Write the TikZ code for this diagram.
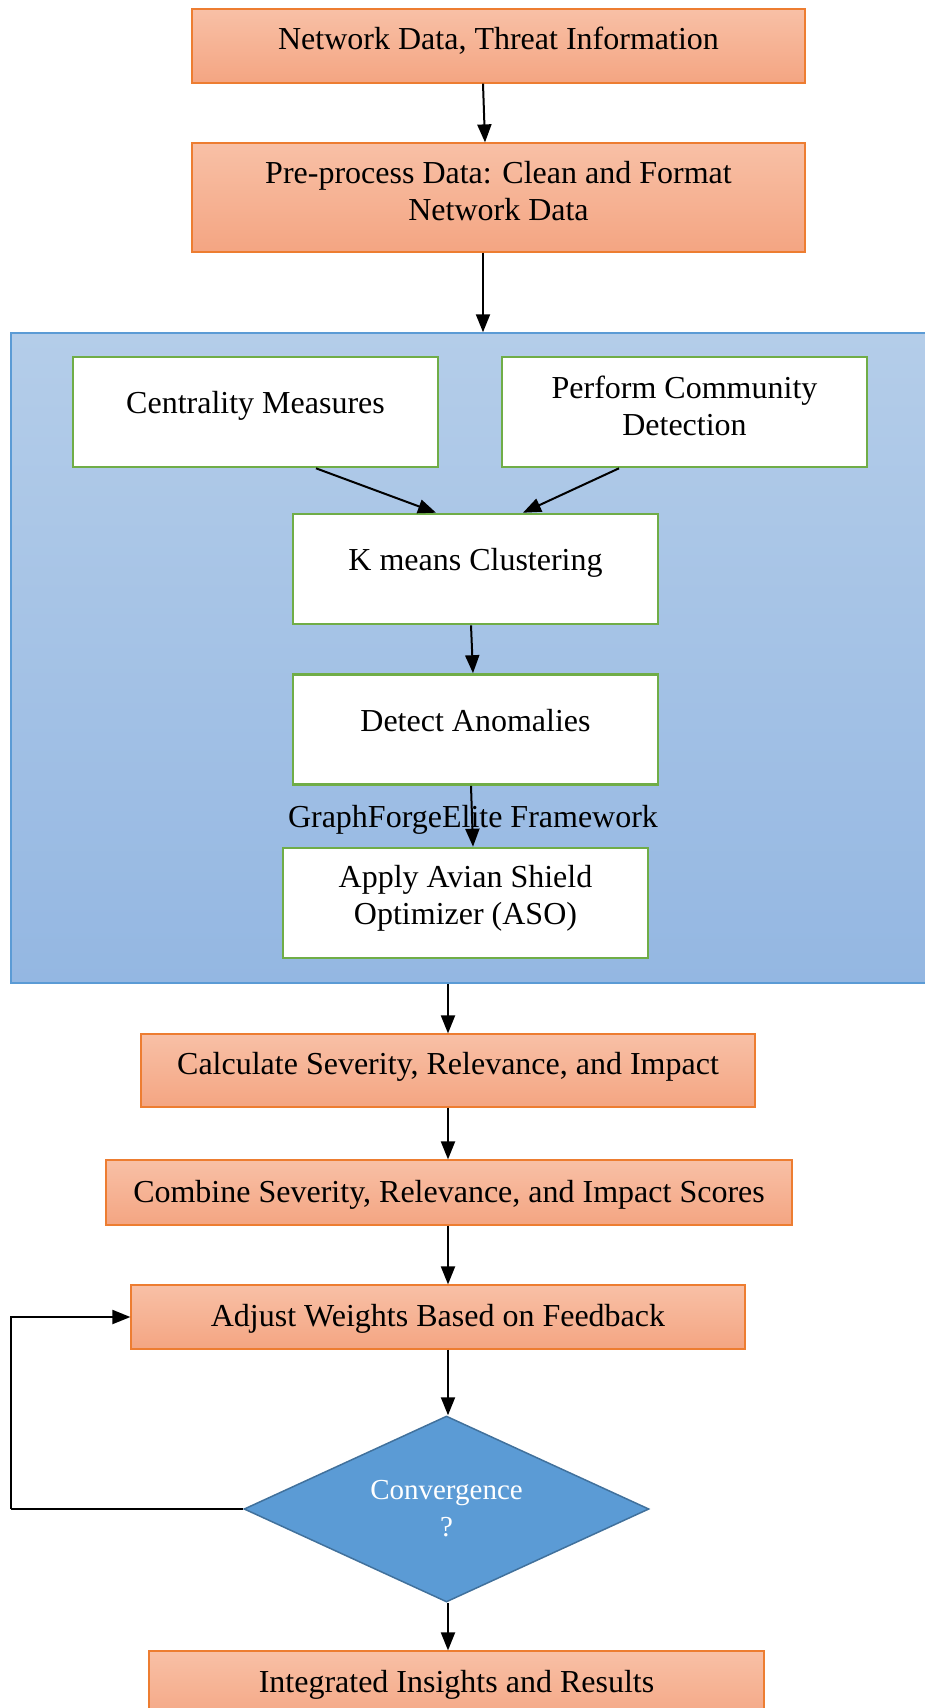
\documentclass[tikz,border=0pt]{standalone}
\usepackage{fontspec}
\setmainfont{Liberation Serif}
\usetikzlibrary{arrows.meta,shapes.geometric}
\definecolor{orTop}{HTML}{F8C0A6}
\definecolor{orBot}{HTML}{F4A582}
\definecolor{orLine}{HTML}{ED7D31}
\definecolor{blTop}{HTML}{B4CDE9}
\definecolor{blBot}{HTML}{94B7E2}
\definecolor{blLine}{HTML}{5B9BD5}
\definecolor{grLine}{HTML}{70AD47}
\definecolor{diaFill}{HTML}{5B9BD5}
\definecolor{diaLine}{HTML}{41719C}
\begin{document}
\begin{tikzpicture}[x=1pt,y=-1pt,
 obox/.style={rectangle, draw=orLine, line width=1.2pt, top color=orTop, bottom color=orBot, inner sep=0pt},
 gbox/.style={rectangle, draw=grLine, line width=2.6pt, fill=white, inner sep=0pt, minimum width=365pt, minimum height=110pt},
 txt/.style={font=\fontsize{32}{37}\selectfont, align=center, inner sep=0pt},
 arr/.style={draw=black, line width=2pt, -{Triangle[length=18pt,width=14pt]}},
]
\useasboundingbox (0,0) rectangle (925,1708);
\clip (0,0) rectangle (925,1708);

% container
\node[rectangle, draw=blLine, line width=1.5pt, top color=blTop, bottom color=blBot, inner sep=0pt,
      minimum width=919pt, minimum height=650pt] (cont) at (470.5,658) {};

% top orange boxes
\node[obox, minimum width=613pt, minimum height=74pt] (b1) at (498.5,46) {};
\node[txt] (t1) at (498.5,40.5) {Network Data, Threat Information};
\node[obox, minimum width=613pt, minimum height=109pt] (b2) at (498.5,197.5) {};
\node[txt] (t2) at (498.5,191) {Pre-process Data: Clean and Format\\Network Data};

% green boxes
\node[gbox] (cm) at (255.5,412) {};
\node[txt] (tcm) at (255.5,405.5) {Centrality Measures};
\node[gbox] (cd) at (684.5,412) {};
\node[txt] (tcd) at (684.5,406) {Perform Community\\Detection};
\node[gbox] (km) at (475.5,569) {};
\node[txt] (tkm) at (475.5,562.5) {K means Clustering};
\node[gbox] (da) at (475.5,729.5) {};
\node[txt] (tda) at (475.5,721) {Detect Anomalies};
\node[gbox] (aso) at (465.5,903) {};
\node[txt] (taso) at (465.5,898) {Apply Avian Shield\\Optimizer (ASO)};
\node[txt] (lbl) at (473,820) {GraphForgeElite Framework};

% lower orange boxes
\node[obox, minimum width=614pt, minimum height=73pt] (calc) at (448,1070.5) {};
\node[txt] (tcalc) at (448,1066.5) {Calculate Severity, Relevance, and Impact};
\node[obox, minimum width=686pt, minimum height=65pt] (comb) at (449,1192.5) {};
\node[txt] (tcomb) at (449,1194.5) {Combine Severity, Relevance, and Impact Scores};
\node[obox, minimum width=614pt, minimum height=64pt] (adj) at (438,1317) {};
\node[txt] (tadj) at (438,1318.5) {Adjust Weights Based on Feedback};
\node[diamond, draw=diaLine, line width=1.5pt, fill=diaFill, inner sep=0pt,
      minimum width=405pt, minimum height=186pt] (dia) at (446.5,1509) {};
\node[txt, text=white, font=\fontsize{29}{37}\selectfont] (tdia) at (446.5,1509) {Convergence\\?};
\node[obox, minimum width=615pt, minimum height=74pt] (integ) at (456.5,1688) {};
\node[txt] (tinteg) at (456.5,1684.5) {Integrated Insights and Results};

% connectors
\coordinate (ax) at (448,0);
\coordinate (lp) at (11,1509);
\draw[arr] ([xshift=-15.5pt]b1.south) -- ([xshift=-13.5pt]b2.north);
\draw[arr] ([xshift=-15.5pt]b2.south) -- ([xshift=12.5pt]cont.north);
\draw[arr] ([xshift=60.5pt]cm.south) -- ([xshift=-39.5pt]km.north);
\draw[arr] ([xshift=-65.5pt]cd.south) -- ([xshift=47.5pt]km.north);
\draw[arr] ([xshift=-4.5pt]km.south) -- ([xshift=-2.5pt]da.north);
\draw[arr] ([xshift=-4.5pt]da.south) -- ([xshift=7.5pt]aso.north);
\draw[arr] (cont.south -| ax) -- (calc.north -| ax);
\draw[arr] (calc.south -| ax) -- (comb.north -| ax);
\draw[arr] (comb.south -| ax) -- (adj.north -| ax);
\draw[arr] (adj.south -| ax) -- (dia.north -| ax);
\draw[arr] (dia.south -| ax) -- (integ.north -| ax);
\draw[line width=1.5pt] (dia.west) -- (lp);
\draw[arr] (lp) |- (adj.west);
\end{tikzpicture}
\end{document}
